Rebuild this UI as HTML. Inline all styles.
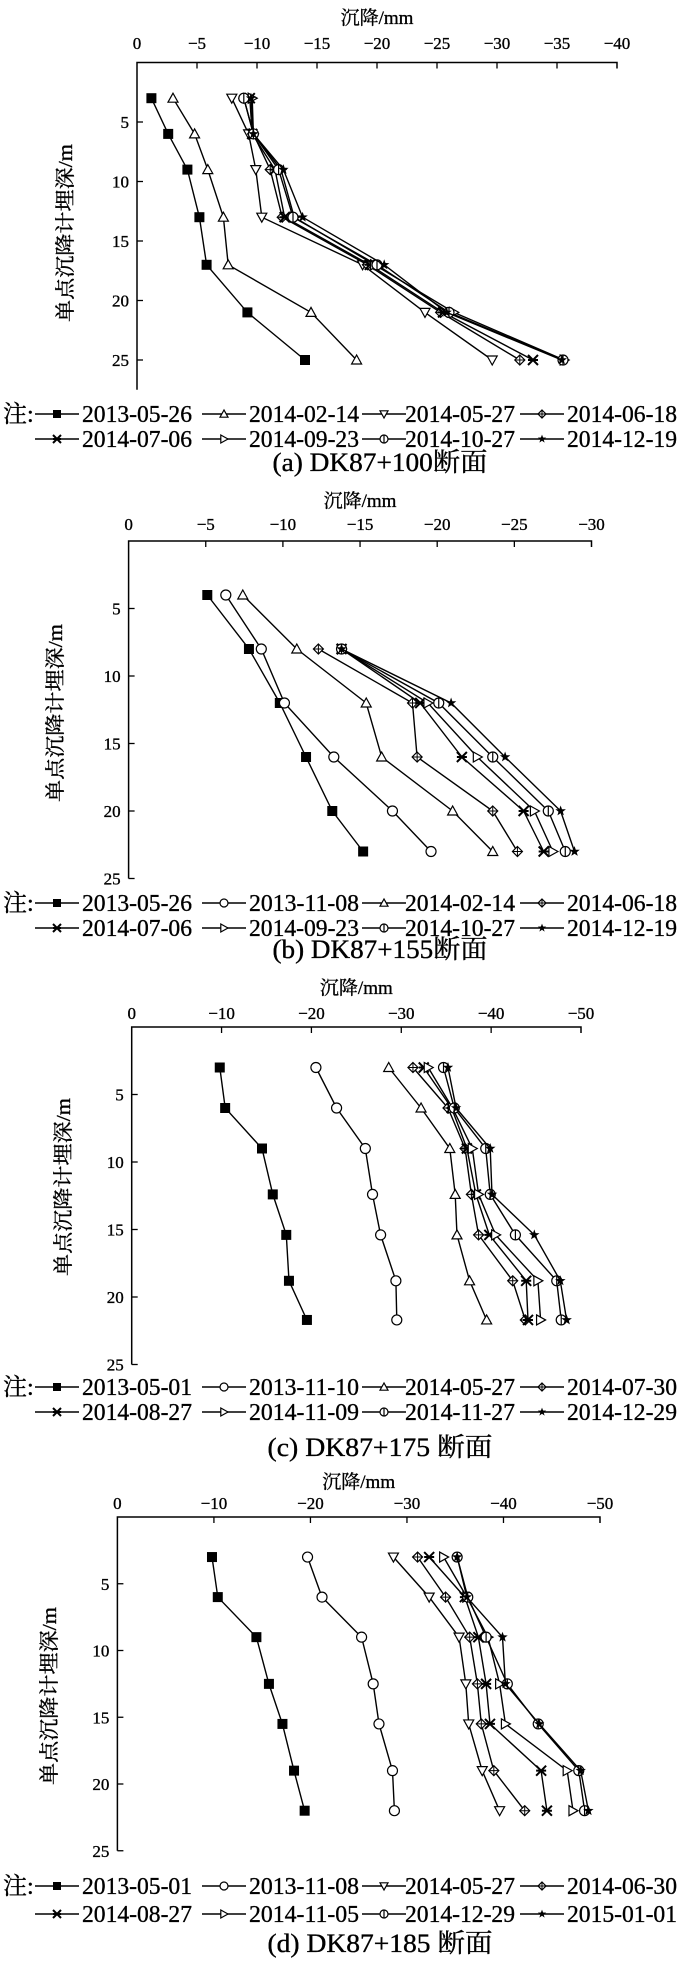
<!DOCTYPE html>
<html><head><meta charset="utf-8">
<style>
html,body{margin:0;padding:0;background:#fff;}
svg{display:block;}
text{font-family:"Liberation Serif","Noto Serif CJK SC",serif;fill:#000;stroke:#000;stroke-width:0.35;}
</style></head>
<body>
<svg id="fig" width="700" height="1966" viewBox="0 0 700 1966" xmlns="http://www.w3.org/2000/svg"></svg>
<script>
// ---- Chart (a) DK87+100 ----
const aDepths = [3, 6, 9, 13, 17, 21, 25];
const aLabels = ["2013-05-26","2014-02-14","2014-05-27","2014-06-18","2014-07-06","2014-09-23","2014-10-27","2014-12-19"];
const aS1 = [-1.2,-2.6,-4.2,-5.2,-5.8,-9.2,-14.0];
const aS2 = [-3.0,-4.8,-5.9,-7.2,-7.6,-14.5,-18.3];
const aS3 = [-7.9,-9.3,-9.9,-10.4,-18.8,-24.0,-29.6];
const aS4 = [-8.9,-9.7,-11.1,-12.1,-19.2,-25.3,-31.9];
const aS5 = [-9.4,-9.6,-11.5,-12.3,-19.4,-25.5,-33.0];
const aS6 = [-9.6,-9.7,-12.0,-13.1,-19.8,-26.4,-35.6];
const aS7 = [-8.9,-9.7,-11.8,-13.0,-20.0,-26.0,-35.5];
const aS8 = [-9.5,-9.7,-12.2,-13.8,-20.6,-25.8,-35.4];
const aXTicks = [0,-5,-10,-15,-20,-25,-30,-35,-40];
const aYTicks = [5,10,15,20,25];

// ---- Chart (b) DK87+155 ----
const bDepthsLong = [4, 8, 12, 16, 20, 23];
const bDepthsShort = [8, 12, 16, 20, 23];
const bLabels = ["2013-05-26","2013-11-08","2014-02-14","2014-06-18","2014-07-06","2014-09-23","2014-10-27","2014-12-19"];
const bS1 = [-5.1,-7.8,-9.8,-11.5,-13.2,-15.2];
const bS2 = [-6.3,-8.6,-10.1,-13.3,-17.1,-19.6];
const bS3 = [-7.4,-10.9,-15.4,-16.4,-21.0,-23.6];
const bS4 = [-12.3,-18.4,-18.7,-23.6,-25.2];
const bS5 = [-13.8,-18.9,-21.6,-25.6,-26.9];
const bS6 = [-13.8,-19.4,-22.6,-26.3,-27.5];
const bS7 = [-13.8,-20.1,-23.6,-27.2,-28.3];
const bS8 = [-13.8,-20.9,-24.4,-28.0,-28.9];
const bXTicks = [0,-5,-10,-15,-20,-25,-30];
const bYTicks = [5,10,15,20,25];

// ---- Chart (c) DK87+175 ----
const cDepths = [3, 6, 9, 12.4, 15.4, 18.8, 21.7];
const cLabels = ["2013-05-01","2013-11-10","2014-05-27","2014-07-30","2014-08-27","2014-11-09","2014-11-27","2014-12-29"];
const cS1 = [-9.8,-10.4,-14.5,-15.7,-17.2,-17.5,-19.5];
const cS2 = [-20.5,-22.8,-26.0,-26.8,-27.7,-29.4,-29.5];
const cS3 = [-28.6,-32.2,-35.4,-36.0,-36.2,-37.6,-39.5];
const cS4 = [-31.3,-35.2,-37.1,-37.8,-38.6,-42.4,-43.8];
const cS5 = [-32.5,-35.6,-37.3,-38.3,-39.8,-43.9,-44.1];
const cS6 = [-33.0,-35.7,-37.9,-38.6,-40.5,-45.2,-45.5];
const cS7 = [-34.7,-35.9,-39.4,-39.9,-42.7,-47.3,-47.8];
const cS8 = [-35.2,-36.1,-39.9,-40.1,-44.8,-47.7,-48.4];
const cXTicks = [0,-10,-20,-30,-40,-50];
const cYTicks = [5,10,15,20,25];

// ---- Chart (d) DK87+185 ----
const dDepths = [3, 6, 9, 12.5, 15.5, 19, 22];
const dLabels = ["2013-05-01","2013-11-08","2014-05-27","2014-06-30","2014-08-27","2014-11-05","2014-12-29","2015-01-01"];
const dS1 = [-9.8,-10.4,-14.4,-15.7,-17.1,-18.3,-19.4];
const dS2 = [-19.7,-21.2,-25.3,-26.5,-27.1,-28.5,-28.7];
const dS3 = [-28.6,-32.3,-35.4,-36.1,-36.4,-37.8,-39.6];
const dS4 = [-31.1,-34.0,-36.5,-37.3,-37.7,-39.0,-42.2];
const dS5 = [-32.3,-36.0,-37.4,-38.2,-38.6,-43.9,-44.5];
const dS6 = [-33.8,-36.2,-38.4,-39.6,-40.2,-46.6,-47.2];
const dS7 = [-35.2,-36.3,-38.2,-40.4,-43.6,-47.8,-48.4];
const dS8 = [-35.2,-36.2,-39.9,-40.2,-43.7,-48.0,-48.8];
const dXTicks = [0,-10,-20,-30,-40,-50];
const dYTicks = [5,10,15,20,25];

const NS = "http://www.w3.org/2000/svg";
const svg = document.getElementById("fig");
function mk(tag, attrs, parent){
  const e = document.createElementNS(NS, tag);
  for (const k in attrs) e.setAttribute(k, attrs[k]);
  (parent||svg).appendChild(e);
  return e;
}

function marker(g, type, x, y, s){
  const st = {stroke:"#000","stroke-width":1.2, fill:"#fff"};
  let e;
  if (type==="square"){ e = mk("rect",{x:x-s,y:y-s,width:2*s,height:2*s,fill:"#000"},g); }
  else if (type==="circle"){ e = mk("circle",Object.assign({cx:x,cy:y,r:s},st),g); }
  else if (type==="tri-up"){ e = mk("polygon",Object.assign({points:`${x},${y-s} ${x-s},${y+s*0.8} ${x+s},${y+s*0.8}`},st),g); }
  else if (type==="tri-down"){ e = mk("polygon",Object.assign({points:`${x},${y+s} ${x-s},${y-s*0.8} ${x+s},${y-s*0.8}`},st),g); }
  else if (type==="diamond"){ e = mk("g",{},g);
    mk("polygon",Object.assign({points:`${x},${y-s} ${x+s},${y} ${x},${y+s} ${x-s},${y}`},st),e);
    mk("path",{d:`M${x-s} ${y}H${x+s}M${x} ${y-s}V${y+s}`,stroke:"#000","stroke-width":1},e); }
  else if (type==="xmark"){ e = mk("path",{d:`M${x-s} ${y-s}L${x+s} ${y+s}M${x-s} ${y+s}L${x+s} ${y-s}M${x-s} ${y}H${x+s}`,stroke:"#000","stroke-width":2},g); }
  else if (type==="tri-right"){ e = mk("polygon",Object.assign({points:`${x+s},${y} ${x-s*0.8},${y-s} ${x-s*0.8},${y+s}`},st),g); }
  else if (type==="circle-bar"){ e = mk("g",{},g);
    mk("circle",Object.assign({cx:x,cy:y,r:s},st),e);
    mk("path",{d:`M${x} ${y-s}V${y+s}`,stroke:"#000","stroke-width":1.2},e); }
  else if (type==="star"){ let p=[]; for(let i=0;i<10;i++){const r=i%2?s*0.45:s*1.1;const a=-Math.PI/2+i*Math.PI/5;p.push((x+r*Math.cos(a)).toFixed(1)+","+(y+r*Math.sin(a)).toFixed(1));}
    e = mk("polygon",{points:p.join(" "),fill:"#000"},g); }
  return e;
}

function chart(cfg){
  const g = mk("g",{});
  
  
  const xs = v => cfg.left + (v - cfg.xmin)/(cfg.xmax - cfg.xmin)*(cfg.right - cfg.left);
  const ys = v => cfg.y0 + v*cfg.ppu;
  const bottom = ys(cfg.ymax);
  const t = mk("text",{x:(cfg.left+cfg.right)/2,y:cfg.titleY,"text-anchor":"middle","font-size":19},g);
  t.textContent = "沉降/mm";
  
  
  const ax = mk("path",{d:`M${cfg.left} ${bottom}V${cfg.y0}H${cfg.right}V${cfg.y0+6}`,stroke:"#000","stroke-width":1.5,fill:"none"},g);
  
  
  cfg.xticks.forEach(v=>{
    const x = xs(v);
    if (v!==cfg.xmin && v!==cfg.xmax) mk("path",{d:`M${x} ${cfg.y0}V${cfg.y0+6}`,stroke:"#000","stroke-width":1.3},g);
    const tl = mk("text",{x:x,y:cfg.tickY,"text-anchor":"middle","font-size":17},g);
    tl.textContent = v===0 ? "0" : "\u2212"+Math.abs(v);
    
    
  });
  cfg.yticks.forEach(v=>{
    const y = ys(v);
    mk("path",{d:`M${cfg.left} ${y}H${cfg.left+6}`,stroke:"#000","stroke-width":1.3},g);
    const tl = mk("text",{x:cfg.left-8,y:y+6,"text-anchor":"end","font-size":17},g);
    tl.textContent = String(v);
    
    
  });
  const yt = mk("text",{transform:`translate(${cfg.ytX},${cfg.ytY}) rotate(-90)`,"text-anchor":"middle","font-size":20,textLength:178,lengthAdjust:"spacingAndGlyphs"},g);
  yt.textContent = "单点沉降计埋深/m";
  
  
  cfg.series.forEach((vals,i)=>{
    const depths = cfg.depthFor(i);
    const sg = mk("g",{},g);
    
    
    const pts = vals.map((v,j)=>xs(v).toFixed(1)+","+ys(depths[j]).toFixed(1)).join(" ");
    mk("polyline",{points:pts,fill:"none",stroke:"#000","stroke-width":1.4},sg);
    vals.forEach((v,j)=>{
      const m = marker(sg, cfg.markers[i], xs(v), ys(depths[j]), 5);
      
      
    });
  });
  const lineX = [35,202,362,520], textX = [82,249,405,567];
  const note = mk("text",{x:3,y:cfg.legY1,"font-size":24},g);
  note.textContent = "注:";
  
  
  cfg.labels.forEach((lab,i)=>{
    const r = Math.floor(i/4), c = i%4;
    const y = r===0 ? cfg.legY1 : cfg.legY2;
    const lg = mk("g",{},g);
    
    
    mk("path",{d:`M${lineX[c]} ${y-8}H${lineX[c]+44}`,stroke:"#000","stroke-width":1.4},lg);
    marker(lg, cfg.markers[i], lineX[c]+22, y-8, 4);
    const tx = mk("text",{x:textX[c],y:y,"font-size":24,textLength:110,lengthAdjust:"spacingAndGlyphs"},lg);
    tx.textContent = lab;
  });
  const cap = mk("text",{x:cfg.capX,y:cfg.capY,"text-anchor":"middle","font-size":26,textLength:cfg.capW,lengthAdjust:"spacingAndGlyphs"},g);
  cap.textContent = cfg.caption;
  
  
}

const mA = ["square","tri-up","tri-down","diamond","xmark","tri-right","circle-bar","star"];
const mB = ["square","circle","tri-up","diamond","xmark","tri-right","circle-bar","star"];
const mD = ["square","circle","tri-down","diamond","xmark","tri-right","circle-bar","star"];

chart({name:"chart-a-dk87-100",left:137,right:617,xmin:0,xmax:-40,y0:62.5,ppu:11.9,ymax:27.5,
  titleY:24,tickY:49,ytX:72,ytY:233,legY1:422,legY2:447,capX:380,capY:471,capW:215,
  caption:"(a) DK87+100断面",xticks:aXTicks,yticks:aYTicks,labels:aLabels,markers:mA,
  series:[aS1,aS2,aS3,aS4,aS5,aS6,aS7,aS8],depthFor:()=>aDepths});
chart({name:"chart-b-dk87-155",left:128.6,right:591.5,xmin:0,xmax:-30,y0:541,ppu:13.5,ymax:25,
  titleY:507,tickY:530,ytX:62,ytY:713,legY1:911,legY2:936,capX:380,capY:958,capW:215,
  caption:"(b) DK87+155断面",xticks:bXTicks,yticks:bYTicks,labels:bLabels,markers:mB,
  series:[bS1,bS2,bS3,bS4,bS5,bS6,bS7,bS8],depthFor:i=>i<3?bDepthsLong:bDepthsShort});
chart({name:"chart-c-dk87-175",left:131.7,right:581,xmin:0,xmax:-50,y0:1027,ppu:13.5,ymax:25,
  titleY:994,tickY:1019,ytX:70,ytY:1187,legY1:1395,legY2:1420,capX:380,capY:1456,capW:225,
  caption:"(c) DK87+175 断面",xticks:cXTicks,yticks:cYTicks,labels:cLabels,markers:mB,
  series:[cS1,cS2,cS3,cS4,cS5,cS6,cS7,cS8],depthFor:()=>cDepths});
chart({name:"chart-d-dk87-185",left:117.4,right:600,xmin:0,xmax:-50,y0:1517,ppu:13.35,ymax:25,
  titleY:1488,tickY:1509,ytX:56,ytY:1696,legY1:1894,legY2:1922,capX:380,capY:1952,capW:225,
  caption:"(d) DK87+185 断面",xticks:dXTicks,yticks:dYTicks,labels:dLabels,markers:mD,
  series:[dS1,dS2,dS3,dS4,dS5,dS6,dS7,dS8],depthFor:()=>dDepths});
</script>
</body></html>
